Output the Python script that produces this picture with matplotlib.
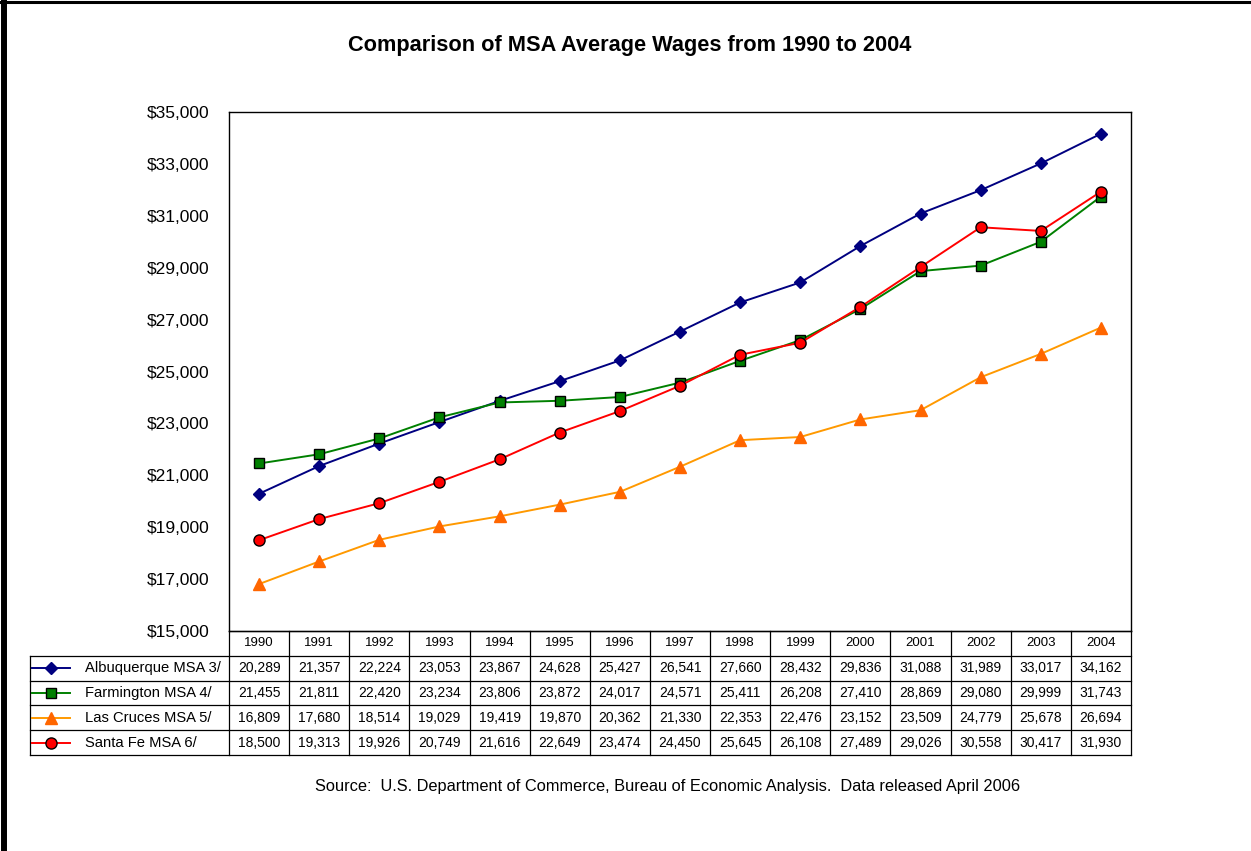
import numpy as np
import matplotlib
matplotlib.use("Agg")
import matplotlib.pyplot as plt
from matplotlib.lines import Line2D

plt.rcParams['font.family'] = ['Liberation Sans', 'DejaVu Sans']

years = ['1990', '1991', '1992', '1993', '1994', '1995', '1996', '1997',
         '1998', '1999', '2000', '2001', '2002', '2003', '2004']
albuquerque = [20289, 21357, 22224, 23053, 23867, 24628, 25427, 26541,
               27660, 28432, 29836, 31088, 31989, 33017, 34162]
farmington = [21455, 21811, 22420, 23234, 23806, 23872, 24017, 24571,
              25411, 26208, 27410, 28869, 29080, 29999, 31743]
las_cruces = [16809, 17680, 18514, 19029, 19419, 19870, 20362, 21330,
              22353, 22476, 23152, 23509, 24779, 25678, 26694]
santa_fe = [18500, 19313, 19926, 20749, 21616, 22649, 23474, 24450,
            25645, 26108, 27489, 29026, 30558, 30417, 31930]
series_names = ['Albuquerque MSA 3/', 'Farmington MSA 4/',
                'Las Cruces MSA 5/', 'Santa Fe MSA 6/']

W, H = 1251, 851
fig = plt.figure(figsize=(W / 100, H / 100), dpi=100)

def fx(px):
    return px / W

def fy(py):
    return 1 - py / H

# estilos de cada serie
styles = [
    dict(color='#000080', marker='D', mfc='#000080', mec='#000080', ms=6),
    dict(color='#008000', marker='s', mfc='#008000', mec='black', ms=7.5),
    dict(color='#FF9900', marker='^', mfc='#FF6600', mec='#FF6600', ms=8),
    dict(color='#FF0000', marker='o', mfc='#FF0000', mec='black', ms=8),
]
data = [albuquerque, farmington, las_cruces, santa_fe]

# grafico principal
ax_l, ax_r, ax_t, ax_b = 229, 1131, 112, 631
ax = fig.add_axes([fx(ax_l), fy(ax_b), fx(ax_r - ax_l), (ax_b - ax_t) / H])
x = np.arange(len(years))
for vals, st in zip(data, styles):
    ax.plot(x, vals, lw=1.4, mew=1.0, **st)
ax.set_xlim(-0.5, len(years) - 0.5)
ax.set_ylim(15000, 35000)
ax.set_yticks(np.arange(15000, 35001, 2000))
ax.set_yticklabels(['${:,}'.format(v) for v in range(15000, 35001, 2000)], fontsize=12.5)
ax.set_xticks([])
ax.tick_params(axis='y', length=0, pad=14)
for s in ax.spines.values():
    s.set_linewidth(1.0)

fig.text(fx(630), fy(45), 'Comparison of MSA Average Wages from 1990 to 2004',
         ha='center', va='center', fontsize=15.7, fontweight='bold')

# tabla de datos
tb_top, tb_bot = 631, 755
tab = fig.add_axes([fx(ax_l), fy(tb_bot), fx(ax_r - ax_l), (tb_bot - tb_top) / H])
tab.set_xlim(-0.5, len(years) - 0.5)
tab.set_ylim(0, 5)
tab.axis('off')
leg_left = -0.5 - (ax_l - 30) / ((ax_r - ax_l) / len(years))

lw = 0.9
# lineas verticales entre columnas
for i in range(len(years) + 1):
    tab.plot([i - 0.5, i - 0.5], [0, 5], color='black', lw=lw, clip_on=False)
# lineas horizontales
tab.plot([-0.5, len(years) - 0.5], [5, 5], color='black', lw=lw, clip_on=False)
for r in range(5):
    tab.plot([leg_left, len(years) - 0.5], [r, r], color='black', lw=lw, clip_on=False)
tab.plot([leg_left, leg_left], [0, 4], color='black', lw=lw, clip_on=False)

for i, yr in enumerate(years):
    tab.text(i, 4.5, yr, ha='center', va='center', fontsize=9.5)
for r, (vals, name, st) in enumerate(zip(data, series_names, styles)):
    yc = 3.5 - r
    for i, v in enumerate(vals):
        tab.text(i, yc, '{:,}'.format(v), ha='center', va='center', fontsize=10)
    ln = Line2D([leg_left + 0.03, leg_left + 0.35, leg_left + 0.67], [yc, yc, yc],
                lw=1.4, markevery=[1], clip_on=False, **st)
    tab.add_line(ln)
    tab.text(leg_left + 0.91, yc, name, ha='left', va='center', fontsize=10.6)

fig.text(fx(668), fy(786), 'Source:  U.S. Department of Commerce, Bureau of Economic Analysis.  Data released April 2006',
         ha='center', va='center', fontsize=11.8)

# marco negro del borde
fig.add_artist(Line2D([fx(4), fx(4)], [0, 1], color='black', lw=4.3, transform=fig.transFigure))
fig.add_artist(Line2D([0, 1], [fy(2), fy(2)], color='black', lw=2.2, transform=fig.transFigure))

fig.savefig('out.png', dpi=100)
